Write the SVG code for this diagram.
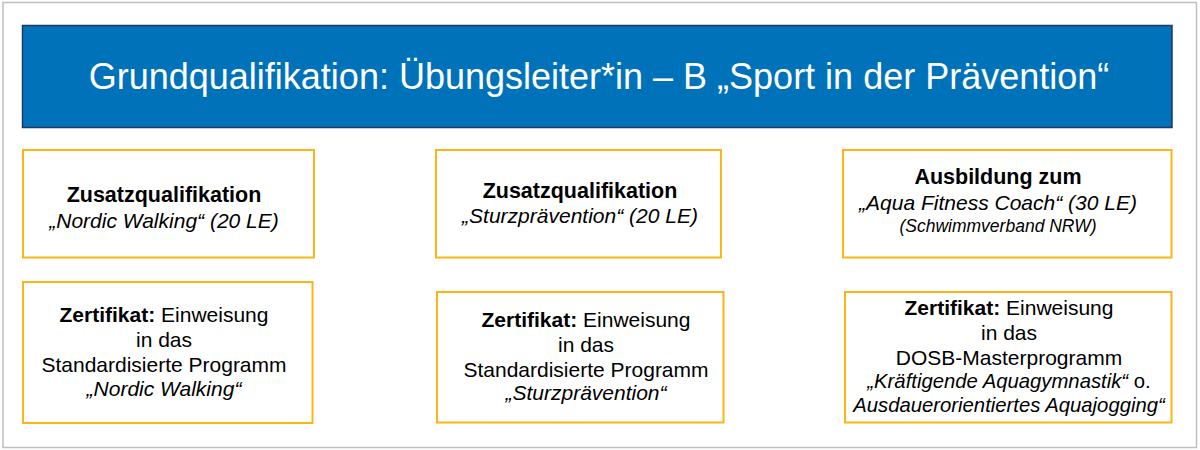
<svg xmlns="http://www.w3.org/2000/svg" width="1200" height="450" viewBox="0 0 1200 450">
<style>
.frame{fill:#FFFFFF;stroke:#BFBFBF;stroke-width:1.5}
.head{fill:#0072BA;stroke:#203864;stroke-width:1.5}
.box{fill:#FFFFFF;stroke:#FBB615;stroke-width:2}
text{font-family:"Liberation Sans",Arial,sans-serif;fill:#000000;text-anchor:middle}
.title{font-size:36px;fill:#FFFFFF}
.t{font-size:21px}
.h{font-size:21.5px;font-weight:bold}
.b{font-weight:bold}
.i{font-style:italic}
.s{font-size:17.5px;font-style:italic}
.n{font-size:20.3px}
</style>
<rect class="frame" x="3" y="2.5" width="1193.5" height="445"/>
<g id="header">
<rect class="head" x="22.5" y="25.5" width="1149.5" height="102"/>
<text class="title" x="599" y="88.5">Grundqualifikation: Übungsleiter*in – B „Sport in der Prävention“</text>
</g>
<g id="zq-nordic">
<rect class="box" x="23" y="150" width="291" height="107.5"/>
<text class="h" x="164" y="202">Zusatzqualifikation</text>
<text class="t i" x="164" y="228">„Nordic Walking“ (20 LE)</text>
</g>
<g id="zq-sturz">
<rect class="box" x="436" y="150" width="285" height="107.5"/>
<text class="h" x="580" y="198">Zusatzqualifikation</text>
<text class="t i" x="580" y="223">„Sturzprävention“ (20 LE)</text>
</g>
<g id="aqua-coach">
<rect class="box" x="843" y="150" width="328.5" height="107.5"/>
<text class="h" x="998" y="184">Ausbildung zum</text>
<text class="t i" x="998" y="210">„Aqua Fitness Coach“ (30 LE)</text>
<text class="s" x="998" y="232">(Schwimmverband NRW)</text>
</g>
<g id="zert-nordic">
<rect class="box" x="23" y="282" width="289.5" height="141"/>
<text class="t" x="164" y="322"><tspan class="b">Zertifikat:</tspan> Einweisung</text>
<text class="t" x="164" y="347">in das</text>
<text class="t" x="164" y="372">Standardisierte Programm</text>
<text class="t i" x="164" y="396">„Nordic Walking“</text>
</g>
<g id="zert-sturz">
<rect class="box" x="437" y="292" width="286.5" height="130.5"/>
<text class="t" x="586" y="327"><tspan class="b">Zertifikat:</tspan> Einweisung</text>
<text class="t" x="586" y="352">in das</text>
<text class="t" x="586" y="377">Standardisierte Programm</text>
<text class="t i" x="586" y="400">„Sturzprävention“</text>
</g>
<g id="zert-aqua">
<rect class="box" x="845" y="292" width="326.5" height="130.5"/>
<text class="t" x="1009" y="315"><tspan class="b">Zertifikat:</tspan> Einweisung</text>
<text class="t" x="1009" y="340">in das</text>
<text class="t" x="1009" y="365">DOSB-Masterprogramm</text>
<text class="n" x="1009" y="388"><tspan class="i">„Kräftigende Aquagymnastik“</tspan> o.</text>
<text class="n i" x="1009" y="412">Ausdauerorientiertes Aquajogging“</text>
</g>
<g id="connectors"/>
</svg>
